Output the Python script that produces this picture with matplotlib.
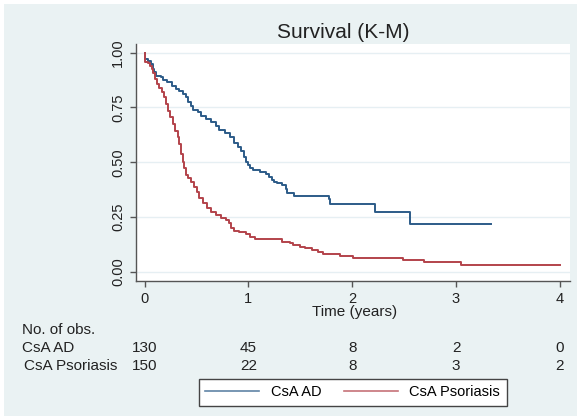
import matplotlib
matplotlib.use('Agg')
import matplotlib.pyplot as plt
from matplotlib.transforms import blended_transform_factory
from matplotlib.patches import Rectangle

plt.rcParams['font.family'] = ['Liberation Sans', 'DejaVu Sans']

# ---- data ----
ad_time = [0, 0.007, 0.03, 0.06, 0.08, 0.094, 0.11, 0.16, 0.175, 0.22, 0.26, 0.30,
           0.33, 0.37, 0.40, 0.415, 0.45, 0.47, 0.51, 0.54, 0.59, 0.64, 0.69, 0.72,
           0.77, 0.82, 0.86, 0.90, 0.93, 0.958, 0.977, 1.0, 1.015, 1.04, 1.11, 1.17,
           1.20, 1.23, 1.25, 1.28, 1.32, 1.36, 1.37, 1.44, 1.78, 1.79, 2.22, 2.56, 3.34]
ad_surv = [1.0, 0.971, 0.96, 0.948, 0.926, 0.91, 0.895, 0.888, 0.875, 0.865, 0.85, 0.834,
           0.826, 0.811, 0.796, 0.773, 0.758, 0.738, 0.728, 0.712, 0.697, 0.682, 0.667, 0.647,
           0.632, 0.614, 0.586, 0.568, 0.552, 0.525, 0.502, 0.487, 0.472, 0.464, 0.457, 0.445,
           0.434, 0.419, 0.411, 0.404, 0.396, 0.376, 0.361, 0.347, 0.331, 0.309, 0.271, 0.219, 0.219]

pso_time = [0, 0.007, 0.03, 0.05, 0.07, 0.085, 0.10, 0.117, 0.14, 0.168, 0.19, 0.21,
            0.23, 0.245, 0.27, 0.296, 0.32, 0.335, 0.35, 0.367, 0.38, 0.40, 0.415, 0.447,
            0.48, 0.50, 0.527, 0.56, 0.60, 0.64, 0.69, 0.736, 0.78, 0.816, 0.83, 0.864,
            0.91, 0.98, 1.015, 1.06, 1.32, 1.40, 1.43, 1.50, 1.545, 1.61, 1.67, 1.72,
            1.88, 2.01, 2.49, 2.69, 3.05, 4.0]
pso_surv = [1.0, 0.956, 0.952, 0.941, 0.926, 0.906, 0.88, 0.857, 0.839, 0.819, 0.796, 0.766,
            0.735, 0.705, 0.674, 0.644, 0.614, 0.583, 0.537, 0.50, 0.472, 0.442, 0.426, 0.411,
            0.388, 0.365, 0.335, 0.312, 0.289, 0.274, 0.259, 0.247, 0.236, 0.221, 0.198, 0.187,
            0.183, 0.172, 0.16, 0.149, 0.134, 0.13, 0.122, 0.114, 0.107, 0.099, 0.091, 0.079,
            0.072, 0.064, 0.053, 0.044, 0.031, 0.031]

risk_times = [0, 1, 2, 3, 4]
risk_ad = [130, 45, 8, 2, 0]
risk_pso = [150, 22, 8, 3, 2]
group_labels = ['CsA AD', 'CsA Psoriasis']
x_ticks = [0, 1, 2, 3, 4]
y_ticks = [0.0, 0.25, 0.5, 0.75, 1.0]
y_ticklabels = ['0.00', '0.25', '0.50', '0.75', '1.00']

# ---- figure ----
W, H = 577, 416
fig = plt.figure(figsize=(W / 100, H / 100), dpi=100)
fig.patch.set_facecolor('white')
fig.patches.append(Rectangle((4 / W, 0), 1 - 4 / W, 1 - 4 / H, transform=fig.transFigure,
                             facecolor='#eaf2f3', edgecolor='none', zorder=-10))

def px(x):
    return x / W

def py(y):
    return 1 - y / H

ax_l, ax_r, ax_t, ax_b = 136.2, 569.7, 44.0, 280.7
ax = fig.add_axes([px(ax_l), py(ax_b), px(ax_r - ax_l), (ax_b - ax_t) / H])
ax.set_facecolor('white')

blue = '#2c5b88'
red = '#b3434b'
ax.step(ad_time, ad_surv, where='post', color=blue, lw=1.4, label=group_labels[0], zorder=3)
ax.step(pso_time, pso_surv, where='post', color=red, lw=1.4, label=group_labels[1], zorder=3)

ax.set_xlim(-0.081, 4.095)
ax.set_ylim(-0.041, 1.0397)
ax.set_xticks(x_ticks)
ax.set_yticks(y_ticks)
ax.set_yticklabels(y_ticklabels, rotation=90, va='center')
ax.yaxis.grid(True, color='#e6eff3', lw=1.0)
ax.set_axisbelow(True)

for s in ['top', 'right']:
    ax.spines[s].set_visible(False)
for s in ['left', 'bottom']:
    ax.spines[s].set_color('#555555')
    ax.spines[s].set_linewidth(1.0)
ax.tick_params(axis='both', direction='out', length=4, width=1.0, color='#555555',
               labelsize=10.5, labelcolor='#222222')
ax.tick_params(axis='x', pad=4)
ax.tick_params(axis='y', pad=4)

ax.set_xlabel('Time (years)', fontsize=11, color='#222222', labelpad=0)
ax.xaxis.set_label_coords(px(354.2 - ax_l) / px(ax_r - ax_l), -(312 - ax_b) / (ax_b - ax_t))
ax.xaxis.label.set_va('center')

fig.text(px(343.6), py(33), 'Survival (K-M)', ha='center', va='center', fontsize=15,
         color='#222222')

# number at risk table
tr = blended_transform_factory(ax.transData, fig.transFigure)
fig.text(px(22), py(330), 'No. of obs.', ha='left', va='center', fontsize=11, color='#222222')
fig.text(px(22), py(348), group_labels[0], ha='left', va='center', fontsize=11, color='#222222')
fig.text(px(24), py(366), group_labels[1], ha='left', va='center', fontsize=11, color='#222222')
for t, a, p in zip(risk_times, risk_ad, risk_pso):
    ax.text(t, py(348), str(a), transform=tr, ha='center', va='center', fontsize=11,
            color='#222222')
    ax.text(t, py(366), str(p), transform=tr, ha='center', va='center', fontsize=11,
            color='#222222')

# legend
lx0, lx1, ly0, ly1 = 198.7, 506.8, 379.0, 405.7
h, l = ax.get_legend_handles_labels()
leg = fig.legend(h, l, loc='lower left',
                 bbox_to_anchor=(px(lx0), py(ly1), px(lx1 - lx0), (ly1 - ly0) / H),
                 mode='expand', ncol=2, fontsize=10.5, frameon=True, fancybox=False,
                 edgecolor='#444444', facecolor='white', framealpha=1, borderaxespad=0,
                 handlelength=3.7, handletextpad=0.8, borderpad=0.45)
leg.get_frame().set_linewidth(1.0)
for line in leg.get_lines():
    line.set_linewidth(1.2)
    line.set_alpha(0.75)

fig.savefig('out.png', dpi=100)
